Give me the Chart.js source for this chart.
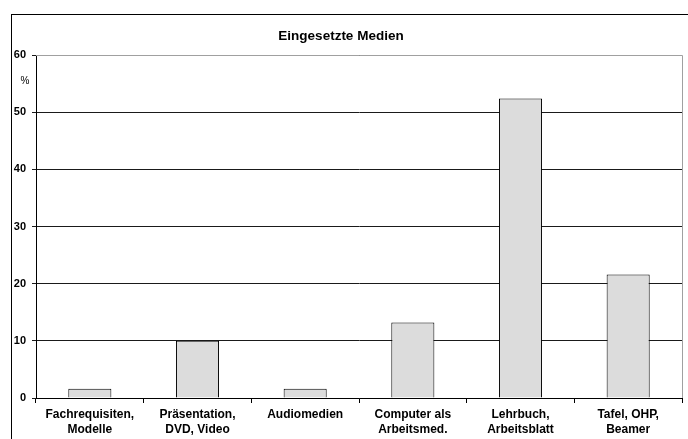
<!DOCTYPE html>
<html>
<head>
<meta charset="utf-8">
<style>
  html, body { margin: 0; padding: 0; background: #fff; }
  canvas { display: block; }
</style>
<script src="https://cdn.jsdelivr.net/npm/chart.js@4/dist/chart.umd.min.js"></script>
</head>
<body>
<canvas id="c" width="688" height="439"></canvas>
<script>
// Kategorien (zweizeilige Beschriftungen) und Anteile in Prozent
const categories = [
  ['Fachrequisiten,', 'Modelle'],
  ['Präsentation,', 'DVD, Video'],
  ['Audiomedien'],
  ['Computer als', 'Arbeitsmed.'],
  ['Lehrbuch,', 'Arbeitsblatt'],
  ['Tafel, OHP,', 'Beamer']
];
const percentValues = [1.6, 10.0, 1.6, 13.2, 52.4, 21.6];
const yTicks = [0, 10, 20, 30, 40, 50, 60];

const FONT = '"Liberation Sans", Arial, Helvetica, sans-serif';

// Rahmen um das gesamte Diagramm, graue Plotfläche-Kanten und "%"-Beschriftung
const framePlugin = {
  id: 'frame',
  beforeDraw(chart) {
    const ctx = chart.ctx;
    ctx.save();
    ctx.fillStyle = '#fff';
    ctx.fillRect(0, 0, chart.width, chart.height);
    ctx.strokeStyle = '#000';
    ctx.lineWidth = 1;
    ctx.strokeRect(11.5, 14.5, chart.width, chart.height);
    ctx.restore();
  },
  afterDraw(chart) {
    const ctx = chart.ctx;
    const a = chart.chartArea;
    ctx.save();
    ctx.strokeStyle = '#a0a0a0';
    ctx.lineWidth = 1;
    ctx.beginPath();
    ctx.moveTo(a.left, a.top + 0.5);
    ctx.lineTo(a.right + 0.5, a.top + 0.5);
    ctx.lineTo(a.right + 0.5, a.bottom);
    ctx.stroke();
    ctx.fillStyle = '#000';
    ctx.font = '10px ' + FONT;
    ctx.textAlign = 'center';
    ctx.textBaseline = 'middle';
    ctx.fillText('%', 25, a.top + 26);
    ctx.restore();
  }
};

new Chart(document.getElementById('c'), {
  type: 'bar',
  data: {
    labels: categories,
    datasets: [{
      data: percentValues,
      backgroundColor: '#dcdcdc',
      borderColor: '#000',
      borderWidth: 1,
      barPercentage: 0.4,
      categoryPercentage: 1.0
    }]
  },
  options: {
    responsive: false,
    animation: false,
    devicePixelRatio: 1,
    layout: { padding: { left: 0, right: 6, top: 0, bottom: 0 } },
    plugins: {
      legend: { display: false },
      tooltip: { enabled: false },
      title: {
        display: true,
        text: 'Eingesetzte Medien',
        color: '#000',
        font: { family: FONT, size: 13.5, weight: 'bold' },
        padding: { top: 27.9, bottom: 10.9 }
      }
    },
    scales: {
      x: {
        grid: {
          offset: true,
          drawOnChartArea: false,
          drawTicks: true,
          tickLength: 5,
          color: '#000'
        },
        border: { color: '#000', width: 1 },
        ticks: {
          color: '#000',
          font: { family: FONT, size: 12, weight: 'bold', lineHeight: 1.25 },
          padding: 4,
          maxRotation: 0,
          autoSkip: false
        },
        afterFit(scale) { scale.height = 41; }
      },
      y: {
        min: 0,
        max: 60,
        afterBuildTicks(scale) { scale.ticks = yTicks.map(v => ({ value: v })); },
        grid: {
          color: '#1a1a1a',
          tickLength: 4,
          drawTicks: true
        },
        border: { color: '#000', width: 1 },
        ticks: {
          color: '#000',
          font: { family: FONT, size: 11, weight: 'bold' },
          padding: 6
        },
        afterFit(scale) { scale.width = 36; }
      }
    }
  },
  plugins: [framePlugin]
});
</script>
</body>
</html>
